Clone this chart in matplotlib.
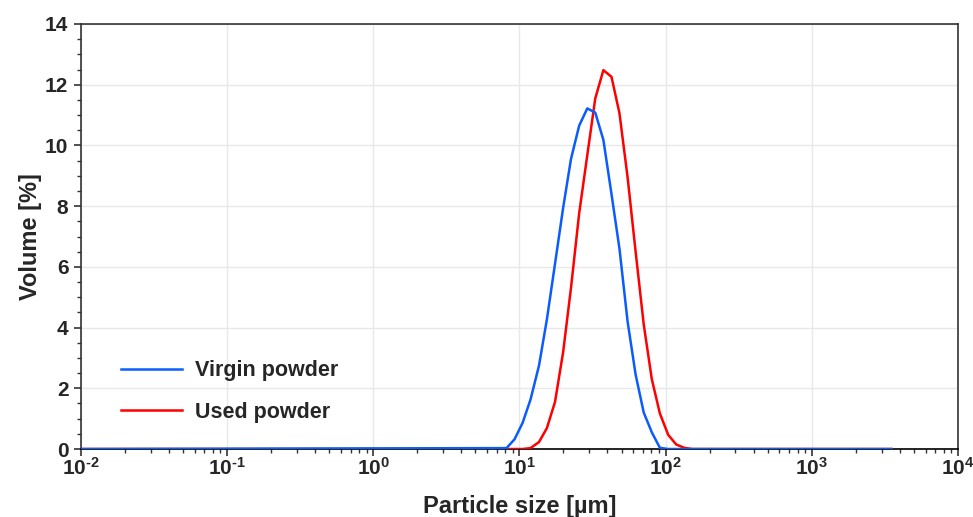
import matplotlib
matplotlib.use('Agg')
import matplotlib.pyplot as plt
from matplotlib.ticker import LogLocator, MultipleLocator, FixedLocator, FixedFormatter, NullFormatter

plt.rcParams['font.family'] = ['Liberation Sans', 'DejaVu Sans']
plt.rcParams['font.weight'] = 'bold'
plt.rcParams['mathtext.fontset'] = 'custom'
plt.rcParams['mathtext.rm'] = 'Liberation Sans:bold'
plt.rcParams['mathtext.bf'] = 'Liberation Sans:bold'
plt.rcParams['mathtext.default'] = 'bf'

# particle size bins [um] (flat zero outside the peak)
size = [0.01, 8.15, 9.25, 10.5, 11.9, 13.6, 15.4, 17.5, 19.9, 22.5, 25.6, 29.1,
        33.0, 37.5, 42.6, 48.3, 54.9, 62.3, 70.8, 80.4, 91.3, 104, 118, 134,
        152, 3500]

virgin = [0, 0.03, 0.32, 0.86, 1.63, 2.75, 4.27, 6.1, 7.95, 9.55, 10.65, 11.22,
          11.08, 10.18, 8.4, 6.6, 4.2, 2.45, 1.2, 0.55, 0.04, 0, 0, 0,
          0, 0]

used = [0, 0, 0, 0, 0.03, 0.23, 0.69, 1.55, 3.2, 5.3, 7.76, 9.68,
        11.55, 12.48, 12.26, 11.06, 8.95, 6.5, 4.1, 2.3, 1.17, 0.47, 0.15, 0.04,
        0, 0]

xticks = [1e-2, 1e-1, 1e0, 1e1, 1e2, 1e3, 1e4]
xlabels = [r'$10^{\text{-}2}$', r'$10^{\text{-}1}$', r'$10^{0}$', r'$10^{1}$',
           r'$10^{2}$', r'$10^{3}$', r'$10^{4}$']

txt = '#262626'

fig = plt.figure(figsize=(9.73, 5.17), dpi=100)
ax = fig.add_axes([0.0832, 0.1315, 0.9014, 0.8221])

ax.plot(size, used, color='#ff0000', lw=1.8, label='Used powder', zorder=3)
ax.plot(size, virgin, color='#0a5cff', lw=1.8, label='Virgin powder', zorder=4)

ax.set_xscale('log')
ax.set_xlim(1e-2, 1e4)
ax.set_ylim(0, 14)

ax.xaxis.set_major_locator(FixedLocator(xticks))
ax.xaxis.set_major_formatter(FixedFormatter(xlabels))
ax.xaxis.set_minor_locator(LogLocator(base=10, subs=range(2, 10), numticks=20))
ax.xaxis.set_minor_formatter(NullFormatter())
ax.yaxis.set_major_locator(MultipleLocator(2))
ax.yaxis.set_minor_locator(MultipleLocator(0.5))

ax.grid(True, which='major', color='#e8e8e8', lw=1, zorder=0)
ax.set_axisbelow(True)

for s in ax.spines.values():
    s.set_color('#333333')
    s.set_linewidth(1.2)
ax.spines['bottom'].set_color('black')

ax.tick_params(which='major', direction='out', length=5, width=1.2, color='#333333',
               labelsize=15, labelcolor=txt, pad=4)
ax.tick_params(which='minor', direction='out', length=3, width=1, color='#333333')
ax.tick_params(axis='x', which='major', pad=1)

ax.set_xlabel('Particle size [µm]', fontsize=17, fontweight='bold', color=txt, labelpad=11)
ax.set_ylabel('Volume [%]', fontsize=17, fontweight='bold', color=txt, labelpad=2)

handles, labels = ax.get_legend_handles_labels()
leg = ax.legend(handles[::-1], labels[::-1], loc='upper left', bbox_to_anchor=(0.024, 0.254),
                frameon=False, fontsize=15.5, handlelength=2.8, handletextpad=0.6,
                labelspacing=0.95)
for t in leg.get_texts():
    t.set_color(txt)
    t.set_fontweight('bold')

fig.savefig('out.png', dpi=100)
